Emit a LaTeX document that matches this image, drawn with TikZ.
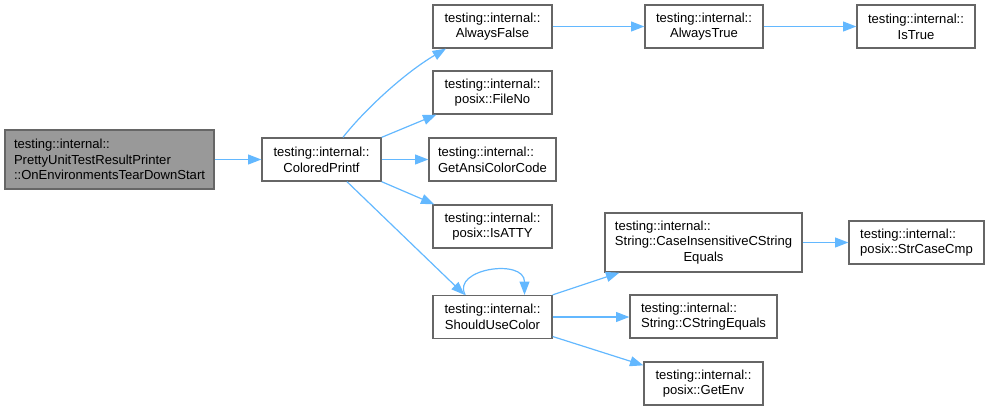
\documentclass[tikz,border=0pt]{standalone}
\usepackage{fontspec}
\setmainfont{Liberation Sans}
\usepackage{calc}
\usetikzlibrary{arrows.meta}
\definecolor{edgeblue}{HTML}{63B8FF}
\definecolor{boxgray}{HTML}{666666}
\definecolor{rootfill}{HTML}{999999}
\newcommand{\firstleft}[2]{\makebox[\widthof{#2}][l]{#1}\\#2}
\tikzset{
  box/.style={draw=boxgray, line width=1pt, fill=white, inner sep=0pt, align=center,
    font=\fontsize{9.8}{11.8}\selectfont, minimum height=32.25pt},
  tallbox/.style={box, minimum height=44.25pt},
  edge/.style={draw=edgeblue, line width=0.9pt, -{Triangle[length=10pt,width=7.5pt]}}
}
\begin{document}
\begin{tikzpicture}[x=0.75pt,y=-0.75pt]
\useasboundingbox (0,0) rectangle (989,411);
% nodes
\node[tallbox, fill=rootfill, align=left, minimum width=156.75pt] (root) at (109.5,159.5)
  {testing::internal::\\PrettyUnitTestResultPrinter\\::OnEnvironmentsTearDownStart};
\node[box, minimum width=89.25pt] (cp) at (321.5,159.5) {testing::internal::\\ColoredPrintf};
\node[box, minimum width=89.25pt] (af) at (492.5,26.5) {testing::internal::\\AlwaysFalse};
\node[box, minimum width=89.25pt] (fn) at (492.5,92.5) {testing::internal::\\posix::FileNo};
\node[box, minimum width=95.25pt] (gacc) at (492.5,159.5) {\firstleft{testing::internal::}{GetAnsiColorCode}};
\node[box, minimum width=89.25pt] (isatty) at (492.5,226.5) {testing::internal::\\posix::IsATTY};
\node[box, minimum width=89.25pt] (suc) at (492.5,317) {testing::internal::\\ShouldUseColor};
\node[box, minimum width=88.5pt] (at) at (704,26.5) {testing::internal::\\AlwaysTrue};
\node[box, minimum width=88.5pt] (it) at (916,26.5) {testing::internal::\\IsTrue};
\node[tallbox, minimum width=147.75pt] (cice) at (703.5,242.5)
  {\firstleft{testing::internal::}{String::CaseInsensitiveCString}\\Equals};
\node[box, minimum width=101.25pt] (scc) at (916.5,242.5) {\firstleft{testing::internal::}{posix::StrCaseCmp}};
\node[box, minimum width=110.25pt] (cse) at (703.5,316.5) {\firstleft{testing::internal::}{String::CStringEquals}};
\node[box, minimum width=89.25pt] (ge) at (703.5,383.5) {testing::internal::\\posix::GetEnv};
% edges
\draw[edge] (root) -- (cp);
\draw[edge] ([xshift=16.1pt]cp.north) .. controls +(22,-28) and +(-41,24) .. ([xshift=-34.9pt]af.south);
\draw[edge] (cp.north east) -- ([xshift=3pt]fn.south west);
\draw[edge] (cp) -- (gacc);
\draw[edge] (cp.south east) -- ([xshift=1.5pt]isatty.north west);
\draw[edge] ([xshift=19.1pt]cp.south) -- ([xshift=-21pt]suc.north);
\draw[edge] ([xshift=-20.5pt]suc.north) .. controls +(-14,-26) and +(0,-37) .. ([xshift=24pt]suc.north);
\draw[edge] (suc.north east) -- ([xshift=11.25pt]cice.south west);
\draw[edge] (suc.east) -- (suc.east -| cse.west);
\draw[edge] ([yshift=2pt]suc.south east) -- ([yshift=-3pt]ge.north west);
\draw[edge] (cice) -- (scc);
\draw[edge] (af) -- (at);
\draw[edge] (at) -- (it);
\end{tikzpicture}
\end{document}
